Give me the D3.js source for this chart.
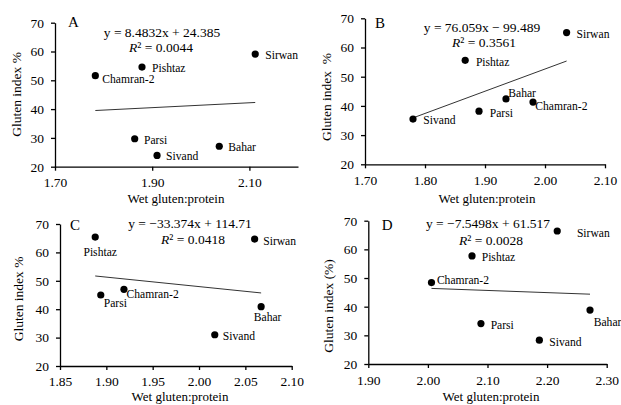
<!DOCTYPE html>
<html>
<head>
<meta charset="utf-8">
<script src="https://cdn.jsdelivr.net/npm/d3@7"></script>
<style>
body { margin: 0; background: #fff; }
text { font-family: "Liberation Serif", "Times New Roman", serif; fill: #000; }
</style>
</head>
<body>
<script>
// cultivars, same order in every panel
var cultivars = ["Sirwan", "Pishtaz", "Chamran-2", "Parsi", "Sivand", "Bahar"];

// wet gluten:protein (x) and gluten index (y)
var wgpA = [2.112, 1.879, 1.783, 1.864, 1.910, 2.038];
var giA  = [59.1, 54.6, 51.6, 29.7, 23.9, 27.1];
var wgpB = [2.036, 1.867, 1.980, 1.890, 1.780, 1.935];
var giB  = [65.1, 55.6, 41.3, 38.2, 35.5, 42.4];
var wgpC = [2.060, 1.888, 1.919, 1.894, 2.017, 2.067];
var giC  = [64.7, 65.4, 47.0, 45.0, 31.0, 40.9];
var wgpD = [2.217, 2.074, 2.006, 2.089, 2.187, 2.272];
var giD  = [66.4, 57.7, 48.4, 34.1, 28.3, 38.8];

// linear fits
var slopes = [8.4832, 76.059, -33.374, -7.5498];
var intercepts = [24.385, -99.489, 114.71, 61.517];
var r2 = ["0.0044", "0.3561", "0.0418", "0.0028"];

// axes
var xTicksA = [1.70, 1.90, 2.10];
var xTicksB = [1.70, 1.80, 1.90, 2.00, 2.10];
var xTicksC = [1.85, 1.90, 1.95, 2.00, 2.05, 2.10];
var xTicksD = [1.90, 2.00, 2.10, 2.20, 2.30];
var yTicks = [20, 30, 40, 50, 60, 70];
var yTitles = ["Gluten index %", "Gluten index  %", "Gluten index %", "Gluten index (%)"];
var xTitle = "Wet gluten:protein";
var letters = ["A", "B", "C", "D"];

var w = 621, h = 405;

// layout of each panel (pixels)
var panels = [
  { x: wgpA, y: giA, ticks: xTicksA, dom: [1.70, 2.20], l: 55, r: 298, t: 22.7, b: 166.7, pad: 7,
    eq: [162, 37, 161, 52], let: [68, 27], yt: [16, 94.5], xt: [176, 203],
    lab: [[10,5],[10,5.3],[7,7.3],[9.3,5.3],[9,4.7],[9,5]] },
  { x: wgpB, y: giB, ticks: xTicksB, dom: [1.70, 2.10], l: 365, r: 605, t: 18.3, b: 164.3, pad: 7,
    eq: [482, 32, 484, 46.7], let: [375, 27.7], yt: [326, 97], xt: [487, 203],
    lab: [[10,5.3],[10.7,5.4],[2.3,8],[10.7,5.4],[10.3,5],[2.3,-1.7]] },
  { x: wgpC, y: giC, ticks: xTicksC, dom: [1.85, 2.10], l: 60, r: 291.7, t: 224, b: 366, pad: 6,
    eq: [190, 228, 193, 244], let: [70, 230], yt: [18, 299], xt: [180, 400.5],
    lab: [[8.6,5.7],[5,18.7,"middle"],[2.6,9],[3,12.3],[8,5.3],[6.5,14,"middle"]] },
  { x: wgpD, y: giD, ticks: xTicksD, dom: [1.90, 2.30], l: 368.3, r: 606.7, t: 220.7, b: 364, pad: 7,
    eq: [488, 228, 491, 245], let: [381.7, 230], yt: [328, 306], xt: [491, 401],
    lab: [[19.7,5.7],[9.7,5.3],[5.4,1.3],[9.7,5.3],[10,5.4],[3.7,15.7]] }
];

function num(v) { return Math.abs(v).toString(); }

var svg = d3.select("body")
.append("svg")
.attr("width", w)
.attr("height", h);

panels.forEach(function(p, k) {
  var x = d3.scaleLinear().domain(p.dom).range([p.l, p.r]);
  var y = d3.scaleLinear().domain([20, 70]).range([p.b, p.t]);
  var g = svg.append("g");

  var xa = g.append("g")
  .attr("transform", "translate(0," + p.b + ")")
  .call(d3.axisBottom(x).tickValues(p.ticks).tickFormat(d3.format(".2f"))
    .tickSize(4).tickPadding(p.pad).tickSizeOuter(0));
  var ya = g.append("g")
  .attr("transform", "translate(" + p.l + ",0)")
  .call(d3.axisLeft(y).tickValues(yTicks).tickSize(4).tickPadding(7).tickSizeOuter(0));
  [xa, ya].forEach(function(a) {
    a.selectAll("path, line").attr("stroke", "#000").attr("stroke-width", 1.3);
    a.selectAll("text").style("font-size", "13.5px");
  });

  // trend line over the range of the data
  var xs = d3.extent(p.x);
  g.append("line")
  .attr("x1", x(xs[0])).attr("y1", y(slopes[k] * xs[0] + intercepts[k]))
  .attr("x2", x(xs[1])).attr("y2", y(slopes[k] * xs[1] + intercepts[k]))
  .attr("stroke", "#333").attr("stroke-width", 1);

  g.selectAll("circle")
  .data(p.x)
  .enter()
  .append("circle")
  .attr("cx", function(d) { return x(d); })
  .attr("cy", function(d, i) { return y(p.y[i]); })
  .attr("r", 3.6)
  .attr("fill", "#000");

  g.selectAll("text.lab")
  .data(cultivars)
  .enter()
  .append("text")
  .attr("class", "lab")
  .attr("x", function(d, i) { return x(p.x[i]) + p.lab[i][0]; })
  .attr("y", function(d, i) { return y(p.y[i]) + p.lab[i][1]; })
  .attr("text-anchor", function(d, i) { return p.lab[i][2] || "start"; })
  .attr("font-size", "11.6px")
  .text(function(d) { return d; });

  var eq = "y = " + (slopes[k] < 0 ? "\u2212" : "") + num(slopes[k]) + "x " +
    (intercepts[k] < 0 ? "\u2212 " : "+ ") + num(intercepts[k]);
  g.append("text")
  .attr("x", p.eq[0]).attr("y", p.eq[1])
  .attr("text-anchor", "middle").attr("font-size", "13.5px")
  .text(eq);
  var rt = g.append("text")
  .attr("x", p.eq[2]).attr("y", p.eq[3])
  .attr("text-anchor", "middle").attr("font-size", "13.5px");
  rt.append("tspan").attr("font-style", "italic").text("R");
  rt.append("tspan").text("\u00b2 = " + r2[k]);

  g.append("text")
  .attr("x", p.let[0]).attr("y", p.let[1])
  .attr("font-size", "15px")
  .text(letters[k]);

  g.append("text")
  .attr("transform", "translate(" + p.yt[0] + "," + p.yt[1] + ") rotate(-90)")
  .attr("dy", "0.35em")
  .attr("text-anchor", "middle").attr("font-size", "13.5px")
  .style("white-space", "pre")
  .text(yTitles[k]);

  g.append("text")
  .attr("x", p.xt[0]).attr("y", p.xt[1])
  .attr("text-anchor", "middle").attr("font-size", "13px")
  .text(xTitle);
});
</script>
</body>
</html>
